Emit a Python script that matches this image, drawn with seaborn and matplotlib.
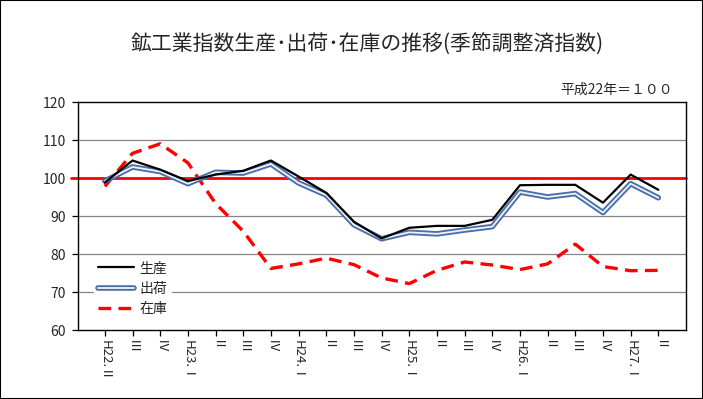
import matplotlib
matplotlib.use("Agg")
import matplotlib.pyplot as plt
import matplotlib.patheffects as pe
from matplotlib.patches import Rectangle
import numpy as np
import pandas as pd
import seaborn as sns

# ---- data ----
quarters = ["H22.Ⅱ", "Ⅲ", "Ⅳ", "H23.Ⅰ", "Ⅱ", "Ⅲ", "Ⅳ", "H24.Ⅰ", "Ⅱ", "Ⅲ", "Ⅳ",
            "H25.Ⅰ", "Ⅱ", "Ⅲ", "Ⅳ", "H26.Ⅰ", "Ⅱ", "Ⅲ", "Ⅳ", "H27.Ⅰ", "Ⅱ"]
production = [98.8, 104.6, 102.2, 99.2, 100.9, 101.9, 104.6, 100.4, 96.1, 88.5, 84.1,
              86.9, 87.4, 87.4, 89.0, 98.1, 98.2, 98.2, 93.5, 100.9, 96.9]
shipments = [99.2, 102.9, 101.7, 98.5, 101.5, 101.3, 103.7, 98.7, 95.5, 87.7, 84.0,
             85.7, 85.3, 86.3, 87.2, 96.3, 95.0, 95.9, 90.9, 98.5, 94.8]
inventory = [97.8, 106.5, 109.0, 104.0, 93.3, 86.0, 76.2, 77.4, 78.9, 77.2, 73.7,
             72.2, 75.7, 77.9, 77.1, 75.9, 77.4, 82.6, 76.7, 75.6, 75.7]
series_names = ["生産", "出荷", "在庫"]
yticks = [60, 70, 80, 90, 100, 110, 120]
baseline = 100
title = "鉱工業指数生産･出荷･在庫の推移(季節調整済指数)"
note = "平成22年＝１００"

sns.set_style("ticks")
plt.rcParams["font.family"] = ["Noto Sans CJK JP", "DejaVu Sans"]

df = pd.DataFrame({
    "pos": np.arange(len(quarters)),
    "生産": production,
    "出荷": shipments,
    "在庫": inventory,
})

fig = plt.figure(figsize=(7.03, 3.99), dpi=100)
ax = fig.add_axes([78 / 703, 1 - 330 / 399, 608 / 703, 228 / 399])

# gridlines
for v in yticks:
    if v not in (60, 100, 120):
        ax.axhline(v, color="#868686", lw=0.9, zorder=1)
ax.axhline(baseline, xmin=-0.012, xmax=1, color="#ff0000", lw=2.0, clip_on=False, zorder=2)

sns.lineplot(data=df, x="pos", y="在庫", ax=ax, color="#ff0000", lw=2.4,
             dashes=False, label="在庫", zorder=3)
ax.lines[-1].set_dashes((3.8, 2.2))
sns.lineplot(data=df, x="pos", y="出荷", ax=ax, color="#eef2fa", lw=1.3,
             label="出荷", zorder=4,
             path_effects=[pe.Stroke(linewidth=4.0, foreground="#4a6ea6"), pe.Normal()])
sns.lineplot(data=df, x="pos", y="生産", ax=ax, color="black", lw=1.6,
             label="生産", zorder=5)

ax.set_xlim(-0.97, len(quarters))
ax.set_ylim(60, 120)
ax.set_yticks(yticks)
ax.set_yticklabels([str(v) for v in yticks], fontsize=10)
ax.set_xticks(df["pos"])
ax.set_xticklabels(quarters, rotation=-90, fontsize=9.5, va="top", ha="center")
ax.set_xlabel("")
ax.set_ylabel("")
ax.tick_params(axis="both", direction="out", length=4, width=0.9, color="black")
ax.tick_params(axis="y", pad=5)
ax.tick_params(axis="x", pad=3)
for s in ax.spines.values():
    s.set_visible(True)
    s.set_color("black")
    s.set_linewidth(1.0)

handles, labels = ax.get_legend_handles_labels()
order = [labels.index(n) for n in series_names]
leg = ax.legend([handles[i] for i in order], [labels[i] for i in order],
                loc="upper left", bbox_to_anchor=(0.015, 0.35), frameon=True,
                fontsize=10, handlelength=2.6, handletextpad=0.35,
                labelspacing=0.45, borderpad=0.3, fancybox=False)
leg.get_frame().set_edgecolor("white")
leg.get_frame().set_facecolor("white")
leg.get_frame().set_alpha(1)
leg.set_zorder(10)

fig.text(367 / 703, 1 - 45 / 399, title, ha="center", va="center", fontsize=15)
fig.text(673 / 703, 1 - 90 / 399, note, ha="right", va="center", fontsize=10)

fig.patches.append(Rectangle((0, 0), 1, 1, transform=fig.transFigure, fill=False,
                             edgecolor="black", lw=1.5, zorder=100))

fig.savefig("out.png", dpi=100)
